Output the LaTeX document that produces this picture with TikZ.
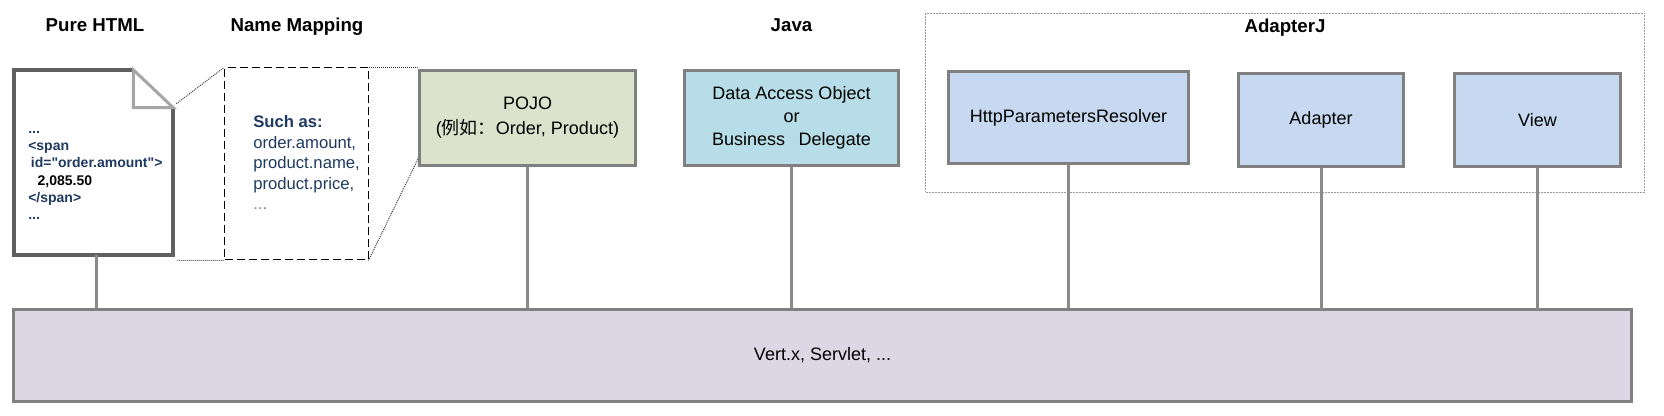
\documentclass[tikz,border=0pt]{standalone}
\usepackage{fontspec}
\setmainfont{Liberation Sans}
\newfontfamily\cjk{Noto Sans CJK SC}
\usetikzlibrary{calc}
\newcommand\dqt{\XeTeXglyph\XeTeXcharglyph"22\relax}
\definecolor{boxgray}{HTML}{808080}
\definecolor{docgray}{HTML}{606060}
\definecolor{foldgray}{HTML}{A6A6A6}
\definecolor{linkgray}{HTML}{8A8A8A}
\definecolor{pojofill}{HTML}{DDE2CC}
\definecolor{daofill}{HTML}{B7DEE8}
\definecolor{bluefill}{HTML}{C6D9F0}
\definecolor{barfill}{HTML}{DCD6E5}
\definecolor{navy}{HTML}{1F3A60}
\begin{document}
\begin{tikzpicture}[x=0.75pt,y=-0.75pt,
  box/.style={draw=boxgray, line width=2.25pt, inner sep=0pt, align=center, font=\fontsize{13.5}{17}\selectfont},
  link/.style={draw=linkgray, line width=2.25pt},
  dotline/.style={draw=black!75, line width=0.75pt, dash pattern=on 0.75pt off 0.75pt},
  title/.style={anchor=base, font=\bfseries\fontsize{14}{16}\selectfont, inner sep=0pt}]
\useasboundingbox (0,0) rectangle (1664,416);

% titles
\node[title] (tpure) at (95,32) {Pure HTML};
\node[title] (tname) at (297,32) {Name Mapping};
\node[title] (tjava) at (791.5,32) {Java};

% AdapterJ group
\node[draw=gray!80, line width=0.75pt, dash pattern=on 1.5pt off 0.75pt, minimum width=719*0.75pt, minimum height=179*0.75pt, inner sep=0pt] (adapterj) at (1285,103) {};
\node[title] (tadapterj) at (1285,33) {AdapterJ};

% name mapping box
\node[draw=black, line width=0.75pt, dash pattern=on 6pt off 3pt, minimum width=143.5*0.75pt, minimum height=192*0.75pt, inner sep=0pt] (namemap) at (296.25,164) {};
\node[anchor=base west, align=left, inner sep=0pt, text=navy, font=\fontsize{12.5}{15.4}\selectfont] (nmtext) at (253,210) {{\bfseries Such as:}\\order.amount,\\product.name,\\product.price,\\\textcolor{navy!60}{...}};

% document
\node[minimum width=159*0.75pt, minimum height=185*0.75pt, inner sep=0pt] (doc) at (93.5,162.5) {};
\coordinate (cutA) at ($(doc.north east)+(-40,0)$);
\coordinate (cutB) at ($(doc.north east)+(0,38)$);
\coordinate (foldC) at ($(doc.north east)+(-40,38)$);
\draw[docgray, line width=3pt, line join=miter] (cutA) -- (doc.north west) -- (doc.south west) -- (doc.south east) -- (cutB);
\draw[foldgray, line width=2.25pt, fill=white, line join=miter] (cutA) -- (cutB) -- (foldC) -- cycle;
\node[anchor=base west, align=left, inner sep=0pt, text=navy, font=\bfseries\fontsize{10.5}{13}\selectfont] (doctext) at (28,220) {...\\<span\\\hspace*{2pt}id=\dqt order.amount\dqt>\\\hspace*{7pt}\textcolor{black}{2,085.50}\\</span>\\...};

% boxes
\node[box, fill=pojofill, minimum width=216*0.75pt, minimum height=95*0.75pt, font=\fontsize{13.5}{18.75}\selectfont] (pojo) at (527.5,118) {POJO\\({\cjk 例如：}Order, Product)};
\node[box, fill=daofill, minimum width=214*0.75pt, minimum height=95*0.75pt] (dao) at (791.5,118) {Data Access Object\\or\\Business\hspace{0.75em}Delegate};
\node[box, fill=bluefill, minimum width=240*0.75pt, minimum height=92*0.75pt] (hpr) at (1068.5,117.5) {HttpParametersResolver};
\node[box, fill=bluefill, minimum width=165*0.75pt, minimum height=93*0.75pt] (adapter) at (1321,120) {Adapter};
\node[box, fill=bluefill, minimum width=166*0.75pt, minimum height=93*0.75pt] (view) at (1537.5,120) {View};
\node[box, fill=barfill, minimum width=1618*0.75pt, minimum height=92*0.75pt] (bar) at (822.5,355.5) {Vert.x, Servlet, ...};

% dotted mapping lines
\coordinate (docfold) at ($(cutB)+(3,-4)$);
\coordinate (docbot) at ($(doc.south east)+(4,5)$);
\coordinate (pojoleft) at ($(pojo.south west)+(0,-8)$);
\draw[dotline] (docfold) -- (namemap.north west);
\draw[dotline] (docbot) -- (namemap.south west);
\draw[dotline] (namemap.north east) -- (namemap.north east -| pojo.west);
\draw[dotline] (namemap.south east) -- (pojoleft);

% connectors
\coordinate (docout) at ($(doc.south)+(2.5,0)$);
\coordinate (adapterin) at ($(adapter.south |- bar.north)+(0,2)$);
\coordinate (viewin) at ($(view.south |- bar.north)+(0,2)$);
\draw[link] (docout) -- (docout |- bar.north);
\draw[link] (pojo.south) -- (pojo.south |- bar.north);
\draw[link] (dao.south) -- (dao.south |- bar.north);
\draw[link] (hpr.south) -- (hpr.south |- bar.north);
\draw[link] (adapter.south) -- (adapterin);
\draw[link] (view.south) -- (viewin);
\end{tikzpicture}
\end{document}
